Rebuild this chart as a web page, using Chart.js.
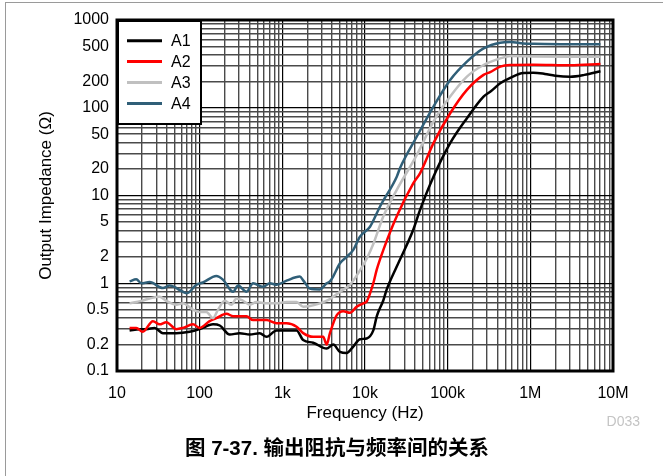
<!DOCTYPE html>
<html>
<head>
<meta charset="utf-8">
<script src="https://cdn.jsdelivr.net/npm/chart.js@4/dist/chart.umd.min.js"></script>
<style>
  body { margin: 0; background: #fff; }
  #wrap { position: relative; width: 663px; height: 476px; overflow: hidden; }
  #frame { position: absolute; left: 5px; top: 2px; width: 700px; height: 500px;
    border-top: 1px solid #9a9a9a; border-left: 1px solid #9a9a9a; }
  canvas { position: absolute; left: 0; top: 0; }
  #code { position: absolute; right: 23px; top: 413px; font: 14px "Liberation Sans", Arial, sans-serif; color: #c4c4c4; }
  #caption { position: absolute; left: 0; width: 674px; top: 431px; text-align: center;
    font: bold 20.5px "Liberation Sans", "Noto Sans CJK SC", sans-serif; color: #000; }
</style>
</head>
<body>
<div id="wrap">
  <div id="frame"></div>
  <canvas id="chart" width="663" height="476"></canvas>
  <div id="code">D033</div>
  <div id="caption">图 7-37. 输出阻抗与频率间的关系</div>
</div>
<script>
// values (Hz, Ohm)
const a1Freq = [14.2, 18.7, 22.6, 28.5, 35.9, 52.2, 75.7, 100, 145, 175, 231, 305, 404, 533, 643, 851, 1125, 1487, 1787, 2361, 3433, 4130, 4977, 6000, 7215, 8690, 10480, 12600, 13870, 16680, 18330, 24220, 38460, 46450, 67330, 107200, 171000, 271700, 327000, 432500, 572000, 822000, 1087000, 1500000, 2000000, 3050000, 4500000, 7050000];
const a1Z = [0.29, 0.30, 0.30, 0.31, 0.27, 0.27, 0.28, 0.30, 0.34, 0.33, 0.26, 0.27, 0.26, 0.27, 0.245, 0.29, 0.29, 0.29, 0.225, 0.21, 0.18, 0.20, 0.165, 0.16, 0.19, 0.23, 0.235, 0.29, 0.42, 0.64, 0.85, 1.55, 4.1, 6.9, 16.4, 39.5, 76, 134, 152, 190, 219, 249, 251, 243, 232, 226, 237, 261];

const a2Freq = [14.2, 17.1, 20.5, 27.2, 32.7, 39.5, 52.2, 62.7, 83, 100, 132, 159, 211, 254, 368, 443, 643, 851, 1125, 1487, 1787, 2361, 3123, 3433, 3765, 4537, 5460, 6580, 7925, 9530, 10480, 12600, 13870, 16680, 24220, 38460, 46450, 67330, 107200, 171000, 271700, 327000, 432500, 572000, 1087000, 3050000, 7050000];
const a2Z = [0.31, 0.31, 0.28, 0.37, 0.34, 0.36, 0.30, 0.31, 0.34, 0.31, 0.37, 0.40, 0.45, 0.42, 0.42, 0.38, 0.38, 0.35, 0.35, 0.32, 0.27, 0.245, 0.245, 0.20, 0.27, 0.43, 0.48, 0.46, 0.54, 0.59, 0.62, 1.0, 1.43, 2.4, 5.8, 13.8, 18, 39.5, 86.5, 160, 237, 255, 294, 307, 310, 305, 315];

const a3Freq = [14.2, 19.7, 24.8, 32.7, 39.5, 52.2, 62.7, 83, 100, 120.5, 145, 167, 201, 242, 279, 335, 404, 486, 643, 851, 1125, 1487, 1787, 2153, 2848, 3765, 4977, 6580, 8690, 10480, 12600, 16680, 24220, 42360, 67330, 107200, 171000, 271700, 432500, 572000, 1087000, 3050000, 7050000];
const a3Z = [0.59, 0.63, 0.67, 0.70, 0.63, 0.57, 0.59, 0.50, 0.47, 0.47, 0.40, 0.50, 0.63, 0.57, 0.67, 0.63, 0.57, 0.61, 0.59, 0.59, 0.61, 0.61, 0.54, 0.55, 0.59, 0.66, 0.80, 0.96, 1.4, 1.9, 2.8, 5.8, 11.6, 29, 69.5, 134, 226, 307, 365, 389, 385, 382, 382];

const a4Freq = [14.2, 17.1, 19.7, 24.8, 35.9, 43.3, 62.7, 70.2, 91.2, 109.6, 159, 191, 254, 291, 368, 443, 585, 705, 851, 1125, 1630, 1787, 2153, 2848, 3433, 3765, 4130, 4977, 6000, 7215, 8690, 11500, 15200, 24220, 26550, 42360, 67330, 107200, 171000, 271700, 432500, 572000, 822000, 1087000, 3050000, 7050000];
const a4Z = [1.05, 1.11, 1.0, 1.03, 0.88, 0.94, 0.80, 0.77, 0.96, 1.02, 1.21, 1.1, 0.80, 0.94, 0.80, 1.0, 0.91, 1.0, 0.96, 1.07, 1.19, 1.08, 0.87, 0.85, 1.0, 1.05, 1.2, 1.69, 2.0, 2.4, 3.4, 4.4, 7.5, 16.4, 20.6, 47, 103, 207, 335, 475, 552, 560, 540, 535, 530, 528];

const seriesNames = ['A1', 'A2', 'A3', 'A4'];
const seriesColors = ['#000000', '#ff0000', '#c0c0c0', '#305f78'];

const xTickValues = [10, 100, 1e3, 1e4, 1e5, 1e6, 1e7];
const xTickNames = ['10', '100', '1k', '10k', '100k', '1M', '10M'];
const yTickValues = [0.1, 0.2, 0.5, 1, 2, 5, 10, 20, 50, 100, 200, 500, 1000];
const yTickNames = ['0.1', '0.2', '0.5', '1', '2', '5', '10', '20', '50', '100', '200', '500', '1000'];

const FONT = '"Liberation Sans", Arial, sans-serif';
Chart.defaults.font.family = FONT;
Chart.defaults.color = '#000';

const pairs = (fs, zs) => fs.map((f, i) => ({ x: f, y: zs[i] }));
const near = (a, b) => Math.abs(a - b) / b < 1e-6;

// 1..9 per decade
function logGrid(min, max) {
  const out = [];
  for (let e = Math.round(Math.log10(min)); e < Math.round(Math.log10(max)); e++) {
    for (let s = 1; s <= 9; s++) out.push({ value: Number((s * Math.pow(10, e)).toPrecision(6)) });
  }
  out.push({ value: max });
  return out;
}
const isDecade = (v) => near(Math.pow(10, Math.round(Math.log10(v))), v);
const gridColor = (c) => (c.tick && isDecade(c.tick.value) ? '#000' : '#4a4a4a');
const gridWidth = (c) => (c.tick && isDecade(c.tick.value) ? 1.2 : 1.4);

const legendBox = {
  id: 'legendBox',
  afterDatasetsDraw(chart) {
    const { ctx, chartArea } = chart;
    const x = chartArea.left, y = chartArea.top;
    ctx.save();
    ctx.fillStyle = '#fff';
    ctx.fillRect(x, y, 84, 104);
    ctx.lineWidth = 2;
    ctx.strokeStyle = '#000';
    ctx.strokeRect(x + 1, y + 1, 83, 103);
    ctx.font = '16px ' + FONT;
    ctx.textBaseline = 'middle';
    chart.data.datasets.forEach((ds, i) => {
      const cy = y + 20.7 + i * 20.9;
      ctx.strokeStyle = ds.borderColor;
      ctx.lineWidth = 3;
      ctx.beginPath();
      ctx.moveTo(x + 10, cy);
      ctx.lineTo(x + 45, cy);
      ctx.stroke();
      ctx.fillStyle = '#000';
      ctx.fillText(ds.label, x + 54, cy + 1);
    });
    ctx.restore();
  },
  afterDraw(chart) {
    const { ctx, chartArea } = chart;
    ctx.save();
    ctx.lineWidth = 3;
    ctx.strokeStyle = '#000';
    ctx.strokeRect(chartArea.left, chartArea.top, chartArea.right - chartArea.left, chartArea.bottom - chartArea.top);
    ctx.restore();
  }
};

const zSets = [pairs(a1Freq, a1Z), pairs(a2Freq, a2Z), pairs(a3Freq, a3Z), pairs(a4Freq, a4Z)];

new Chart(document.getElementById('chart'), {
  type: 'line',
  plugins: [legendBox],
  data: {
    datasets: zSets.map((d, i) => ({
      label: seriesNames[i],
      data: d,
      borderColor: seriesColors[i],
      borderWidth: 2.5,
      pointRadius: 0,
      cubicInterpolationMode: 'monotone',
      fill: false,
      order: 3 - i,
    })),
  },
  options: {
    responsive: false,
    animation: false,
    devicePixelRatio: 1,
    layout: { padding: { top: 20, right: 50, left: 0, bottom: 0 } },
    plugins: {
      legend: { display: false },
      tooltip: { enabled: false },
    },
    scales: {
      x: {
        type: 'logarithmic',
        min: 10,
        max: 1e7,
        afterBuildTicks: (s) => { s.ticks = logGrid(10, 1e7); },
        afterFit: (s) => { s.height = 105; },
        border: { display: false },
        grid: { drawTicks: false, color: gridColor, lineWidth: gridWidth },
        ticks: {
          autoSkip: false,
          maxRotation: 0,
          padding: 13,
          font: { size: 16 },
          callback: (v) => {
            const i = xTickValues.findIndex((t) => near(v, t));
            return i < 0 ? '' : xTickNames[i];
          },
        },
        title: {
          display: true,
          text: 'Frequency (Hz)',
          font: { size: 17 },
          padding: { top: 0, bottom: 52 },
        },
      },
      y: {
        type: 'logarithmic',
        min: 0.1,
        max: 1000,
        afterBuildTicks: (s) => { s.ticks = logGrid(0.1, 1000); },
        afterFit: (s) => { s.width = 117; },
        border: { display: false },
        grid: { drawTicks: false, color: gridColor, lineWidth: gridWidth },
        ticks: {
          autoSkip: false,
          padding: 8,
          font: { size: 16 },
          callback: (v) => {
            const i = yTickValues.findIndex((t) => near(v, t));
            return i < 0 ? '' : yTickNames[i];
          },
        },
        title: {
          display: true,
          text: 'Output Impedance (Ω)',
          font: { size: 17 },
          padding: { top: 36, bottom: 0 },
        },
      },
    },
  },
});
</script>
</body>
</html>
